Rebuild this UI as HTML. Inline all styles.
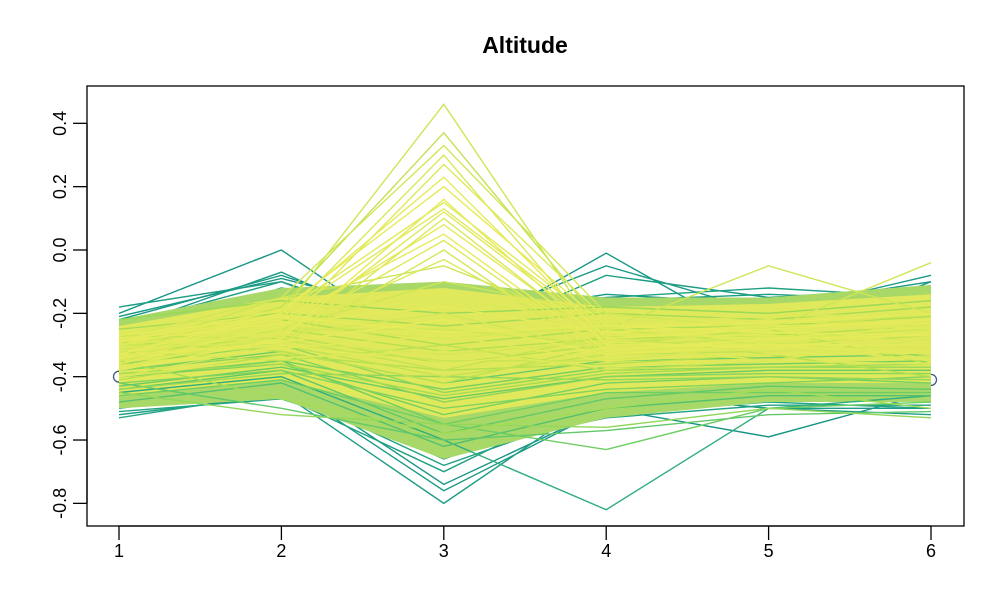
<!DOCTYPE html>
<html><head><meta charset="utf-8"><style>
html,body{margin:0;padding:0;background:#fff;}
svg{display:block;font-family:"Liberation Sans",Arial,sans-serif;}
</style></head><body>
<svg id="chart" width="993" height="613" viewBox="0 0 993 613" xmlns="http://www.w3.org/2000/svg">
<text x="525" y="53" text-anchor="middle" font-size="23" font-weight="bold" fill="#000">Altitude</text>
<g id="plot"></g>
<rect x="87" y="86" width="877" height="440" fill="none" stroke="#000" stroke-width="1.3"/>
<g id="axes"></g>
</svg>
<script>
const xTicks = [1,2,3,4,5,6];
const yTicks = [-0.8,-0.6,-0.4,-0.2,0.0,0.2,0.4];
const yTickLabels = ["-0.8","-0.6","-0.4","-0.2","0.0","0.2","0.4"];
const outerUpper = [-0.22,-0.12,-0.1,-0.15,-0.15,-0.11];
const outerLower = [-0.5,-0.47,-0.66,-0.53,-0.48,-0.48];
const innerUpper = [-0.24,-0.15,-0.12,-0.18,-0.17,-0.14];
const innerLower = [-0.46,-0.41,-0.53,-0.45,-0.42,-0.42];
const seriesValues = [
[-0.2,0.0,-0.35,-0.4,-0.35,-0.3],
[-0.25,-0.07,-0.3,-0.01,-0.3,-0.1],
[-0.22,-0.08,-0.25,-0.05,-0.2,-0.08],
[-0.18,-0.1,-0.3,-0.08,-0.15,-0.12],
[-0.28,-0.12,-0.2,-0.15,-0.12,-0.15],
[-0.25,-0.15,-0.28,-0.18,-0.18,-0.1],
[-0.21,-0.09,-0.22,-0.14,-0.17,-0.13],
[-0.24,-0.1,-0.27,-0.16,-0.14,-0.16],
[-0.45,-0.45,-0.8,-0.45,-0.5,-0.5],
[-0.5,-0.42,-0.76,-0.5,-0.45,-0.48],
[-0.48,-0.4,-0.74,-0.5,-0.59,-0.45],
[-0.52,-0.46,-0.7,-0.45,-0.5,-0.52],
[-0.5,-0.43,-0.66,-0.48,-0.46,-0.44],
[-0.53,-0.45,-0.62,-0.52,-0.48,-0.5],
[-0.49,-0.44,-0.68,-0.5,-0.47,-0.47],
[-0.51,-0.47,-0.64,-0.53,-0.49,-0.49],
[-0.45,-0.4,-0.6,-0.82,-0.5,-0.46],
[-0.4,-0.35,-0.55,-0.63,-0.5,-0.48],
[-0.45,-0.52,-0.55,-0.56,-0.5,-0.53],
[-0.42,-0.5,-0.6,-0.57,-0.52,-0.51],
[-0.35,-0.47,-0.58,-0.5,-0.44,-0.5],
[-0.48,-0.42,-0.62,-0.5,-0.46,-0.46],
[-0.44,-0.38,-0.58,-0.47,-0.43,-0.44],
[-0.46,-0.41,-0.55,-0.45,-0.45,-0.45],
[-0.4,-0.36,-0.52,-0.42,-0.4,-0.42],
[-0.42,-0.38,-0.5,-0.44,-0.42,-0.4],
[-0.38,-0.33,-0.48,-0.4,-0.39,-0.39],
[-0.36,-0.3,-0.45,-0.38,-0.37,-0.37],
[-0.22,-0.16,-0.2,-0.18,-0.2,-0.16],
[-0.25,-0.2,-0.24,-0.2,-0.22,-0.18],
[-0.28,-0.22,-0.3,-0.25,-0.24,-0.21],
[-0.3,-0.25,-0.32,-0.28,-0.27,-0.24],
[-0.33,-0.27,-0.36,-0.3,-0.3,-0.27],
[-0.35,-0.3,-0.4,-0.33,-0.32,-0.3],
[-0.38,-0.32,-0.42,-0.35,-0.34,-0.33],
[-0.4,-0.35,-0.44,-0.37,-0.36,-0.35],
[-0.43,-0.37,-0.47,-0.4,-0.38,-0.38],
[-0.3,-0.3,-0.35,-0.35,-0.3,-0.3],
[-0.35,-0.25,-0.25,-0.3,-0.28,-0.25],
[-0.27,-0.28,-0.38,-0.27,-0.33,-0.32],
[-0.32,-0.35,-0.3,-0.38,-0.35,-0.28],
[-0.37,-0.27,-0.2,-0.32,-0.29,-0.34],
[-0.29,-0.32,-0.42,-0.3,-0.25,-0.36],
[-0.34,-0.24,-0.28,-0.24,-0.31,-0.22],
[-0.41,-0.33,-0.38,-0.36,-0.33,-0.4],
[-0.26,-0.19,-0.15,-0.23,-0.21,-0.2],
[-0.31,-0.29,-0.33,-0.29,-0.26,-0.29],
[-0.39,-0.36,-0.46,-0.39,-0.37,-0.36],
[-0.44,-0.39,-0.4,-0.41,-0.4,-0.41],
[-0.3,-0.2,0.46,-0.3,-0.28,-0.25],
[-0.32,-0.18,0.37,-0.25,-0.3,-0.3],
[-0.28,-0.15,0.33,-0.2,-0.25,-0.2],
[-0.35,-0.22,0.3,-0.3,-0.35,-0.28],
[-0.3,-0.25,0.27,-0.22,-0.3,-0.35],
[-0.33,-0.2,0.23,-0.28,-0.25,-0.22],
[-0.38,-0.28,0.16,-0.3,-0.3,-0.3],
[-0.3,-0.2,0.15,-0.25,-0.22,-0.25],
[-0.35,-0.3,0.1,-0.3,-0.32,-0.3],
[-0.28,-0.22,0.05,-0.32,-0.28,-0.27],
[-0.4,-0.3,0.0,-0.35,-0.3,-0.35],
[-0.32,-0.27,0.12,-0.27,-0.27,-0.29],
[-0.36,-0.24,0.08,-0.29,-0.31,-0.26],
[-0.31,-0.26,-0.03,-0.31,-0.29,-0.31],
[-0.34,-0.21,0.13,-0.26,-0.28,-0.24],
[-0.29,-0.19,0.2,-0.24,-0.26,-0.27],
[-0.37,-0.26,0.03,-0.33,-0.31,-0.32],
[-0.32,-0.15,-0.05,-0.25,-0.05,-0.2],
[-0.3,-0.25,-0.1,-0.2,-0.25,-0.04],
[-0.34,-0.29,-0.22,-0.33,-0.3,-0.3],
[-0.37,-0.31,-0.27,-0.35,-0.33,-0.32],
[-0.29,-0.23,-0.18,-0.26,-0.24,-0.23],
[-0.4,-0.34,-0.32,-0.37,-0.35,-0.36],
[-0.27,-0.21,-0.26,-0.24,-0.23,-0.2],
[-0.33,-0.3,-0.36,-0.31,-0.3,-0.33]
];
const seriesColorPos = [0.05,0.1,0.12,0.15,0.2,0.1,0.08,0.14,0.15,0.1,0.05,0.2,0.08,0.25,0.18,0.22,0.35,0.6,0.7,0.55,0.75,0.5,0.55,0.6,0.62,0.65,0.68,0.7,0.72,0.75,0.78,0.8,0.82,0.85,0.6,0.62,0.58,0.88,0.9,0.86,0.84,0.92,0.83,0.94,0.8,0.96,0.93,0.75,0.7,0.9,0.85,0.92,0.95,0.97,1,1,0.98,0.95,1,0.93,0.97,0.99,0.96,0.98,1,0.97,0.9,0.9,1,0.98,1,0.97,1,0.99];

const X0=119, XSTEP=162.4, Y0=250, YS=316.7;
const xs = i => X0 + (xTicks[i]-1)*XSTEP;
const ys = v => Y0 - v*YS;
const NS="http://www.w3.org/2000/svg";
const plot=document.getElementById('plot'), axes=document.getElementById('axes');
const stops=[[0,[20,145,133]],[0.3,[36,168,130]],[0.6,[110,206,100]],[0.8,[180,224,80]],[1,[230,235,90]]];
function col(t){for(let i=1;i<stops.length;i++){if(t<=stops[i][0]){const a=stops[i-1],b=stops[i];const f=(t-a[0])/(b[0]-a[0]);return 'rgb('+a[1].map((c,k)=>Math.round(c+(b[1][k]-c)*f)).join(',')+')';}}return 'rgb(230,235,90)';}
function band(up,lo,fill){const pts=[];up.forEach((v,i)=>pts.push(xs(i)+','+ys(v)));for(let i=lo.length-1;i>=0;i--)pts.push(xs(i)+','+ys(lo[i]));const p=document.createElementNS(NS,'polygon');p.setAttribute('points',pts.join(' '));p.setAttribute('fill',fill);return p;}
function addLine(i){const p=document.createElementNS(NS,'polyline');p.setAttribute('points',seriesValues[i].map((v,k)=>xs(k)+','+ys(v)).join(' '));p.setAttribute('fill','none');p.setAttribute('stroke',col(seriesColorPos[i]));p.setAttribute('stroke-width','1.4');


plot.appendChild(p);}
const order=seriesValues.map((_,i)=>i).sort((a,b)=>seriesColorPos[a]-seriesColorPos[b]);
order.filter(i=>seriesColorPos[i]<0.3).forEach(addLine);
const b1=band(outerUpper,outerLower,'#a8d868');


plot.appendChild(b1);
const b2=band(innerUpper,innerLower,'#e0e85c');


plot.appendChild(b2);
order.filter(i=>seriesColorPos[i]>=0.3).forEach(addLine);
[[0,-0.4],[5,-0.41]].forEach((c,j)=>{const e=document.createElementNS(NS,'circle');e.setAttribute('cx',xs(c[0]));e.setAttribute('cy',ys(c[1]));e.setAttribute('r',5.5);e.setAttribute('fill','none');e.setAttribute('stroke','#3b5a7a');e.setAttribute('stroke-width','1.3');


plot.insertBefore(e,plot.firstChild);});
function ln(x1,y1,x2,y2){const l=document.createElementNS(NS,'line');l.setAttribute('x1',x1);l.setAttribute('y1',y1);l.setAttribute('x2',x2);l.setAttribute('y2',y2);l.setAttribute('stroke','#000');l.setAttribute('stroke-width','1.3');return l;}
const xl=ln(xs(0),526,xs(5),526);


axes.appendChild(xl);
xTicks.forEach((t,i)=>{const l=ln(xs(i),526,xs(i),540);


axes.appendChild(l);
const tx=document.createElementNS(NS,'text');tx.setAttribute('x',xs(i));tx.setAttribute('y',557);tx.setAttribute('text-anchor','middle');tx.setAttribute('font-size','18');tx.textContent=String(t);


axes.appendChild(tx);});
const yl=ln(87,ys(yTicks[0]),87,ys(yTicks[yTicks.length-1]));


axes.appendChild(yl);
yTicks.forEach((t,i)=>{const y=ys(t);const l=ln(73,y,87,y);


axes.appendChild(l);
const tx=document.createElementNS(NS,'text');tx.setAttribute('x',0);tx.setAttribute('y',0);tx.setAttribute('text-anchor','middle');tx.setAttribute('font-size','18');tx.setAttribute('transform','translate(66,'+y+') rotate(-90)');tx.textContent=yTickLabels[i];


axes.appendChild(tx);});
</script>
</body></html>
